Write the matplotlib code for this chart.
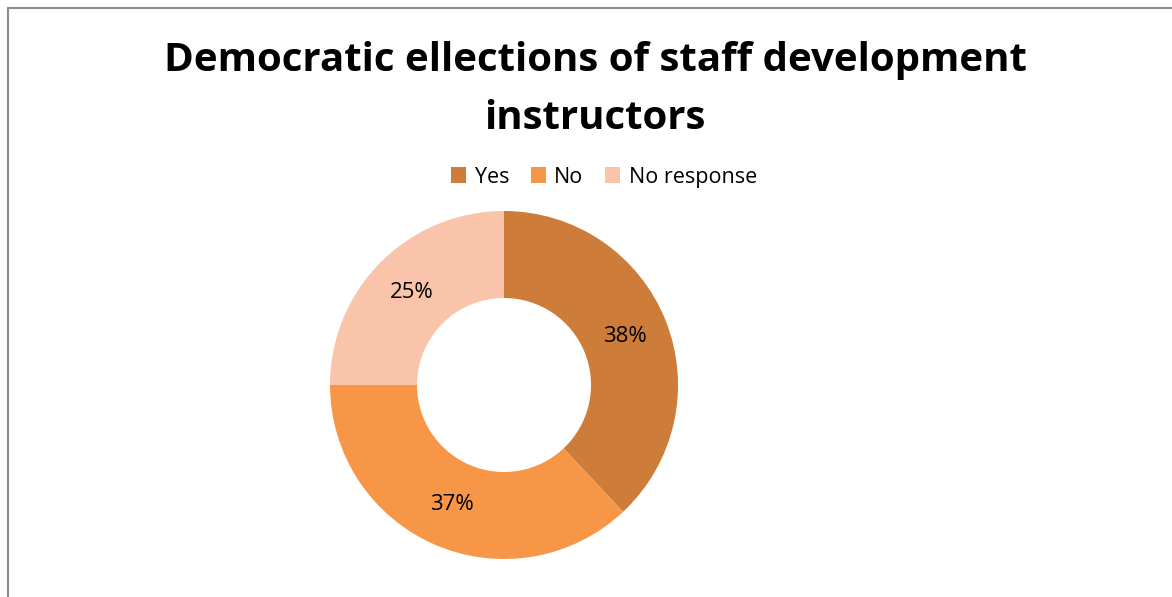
import matplotlib.pyplot as plt
from matplotlib.patches import Rectangle

labels = ['Yes', 'No', 'No response']
shares = [38, 37, 25]
colors = ['#CD7C3A', '#F79646', '#F9C4A9']

W, H = 1172, 597
fig = plt.figure(figsize=(W / 100, H / 100), dpi=100)
plt.rcParams['font.family'] = ['Open Sans', 'DejaVu Sans']

# chart border (left and top edges visible)
fig.add_artist(Rectangle((7.5 / W, -0.1), 1.2, (H - 7.5) / H + 0.1, transform=fig.transFigure,
                         fill=False, edgecolor='#8c8c8c', lw=1.5))

# doughnut axes positioned by pixels: centre (504, 385), radius 174
cx, cy, r = 504, 385, 174
ax = fig.add_axes([(cx - r) / W, (H - cy - r) / H, 2 * r / W, 2 * r / H])
wedges, texts, autotexts = ax.pie(shares, colors=colors, startangle=90, counterclock=False,
                                  radius=1, autopct='%d%%', pctdistance=0.75,
                                  wedgeprops=dict(width=0.5, edgecolor='none'),
                                  textprops=dict(fontsize=16, color='black'))
ax.set_xlim(-1, 1)
ax.set_ylim(-1, 1)
ax.set_aspect('equal')
ax.axis('off')

fig.text(595 / W, 1 - 61 / H, 'Democratic ellections of staff development',
         ha='center', va='center', fontsize=29, fontweight='bold')
fig.text(595 / W, 1 - 119 / H, 'instructors',
         ha='center', va='center', fontsize=29, fontweight='bold')

fig.legend(wedges, labels, loc='center', bbox_to_anchor=(604 / W, 1 - 177 / H), ncol=3,
           frameon=False, fontsize=15.5, handlelength=0.7, handleheight=0.7,
           handletextpad=0.4, columnspacing=1.0)

fig.savefig('out.png', dpi=100)
